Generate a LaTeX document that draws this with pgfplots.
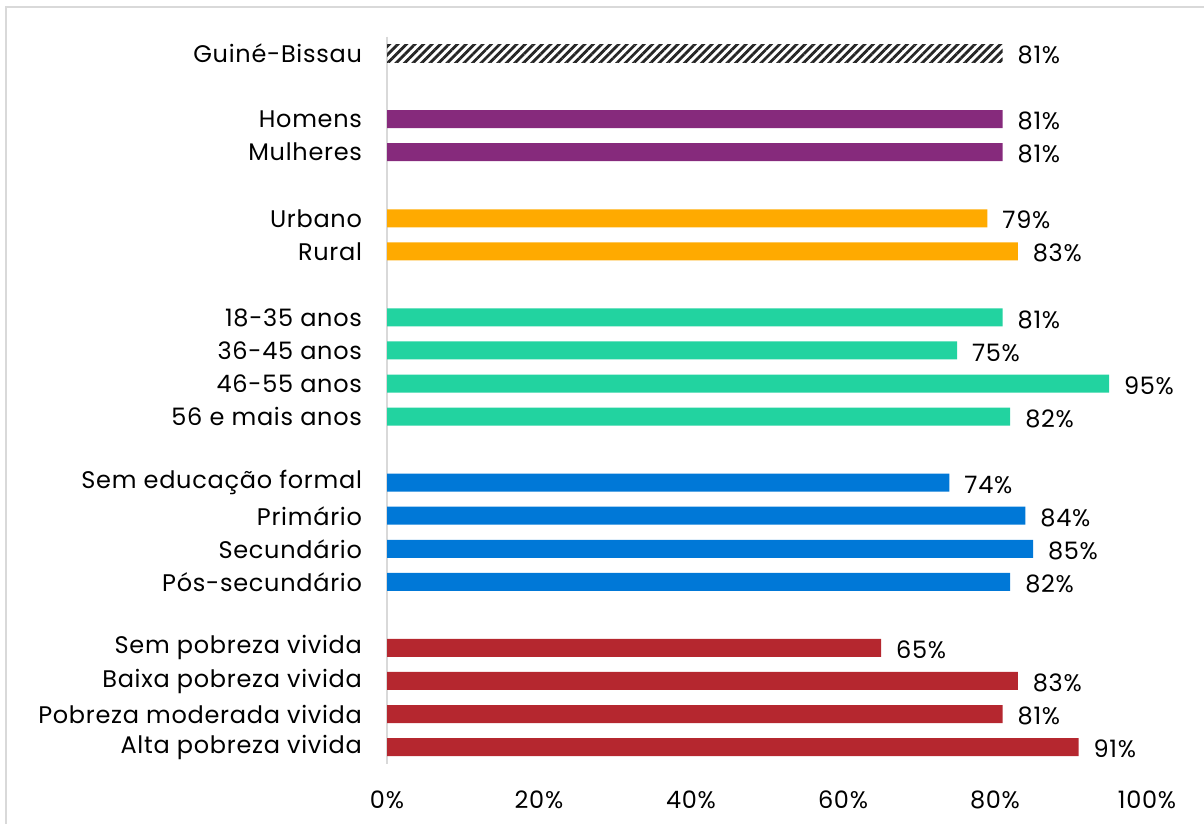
\documentclass[border=0pt]{standalone}
\usepackage{fontspec}
\setmainfont{Poppins}[LetterSpace=3]
\usepackage{pgfplots}
\pgfplotsset{compat=1.18}
\usetikzlibrary{patterns.meta}

\definecolor{cpurple}{RGB}{134,42,124}
\definecolor{corange}{RGB}{255,170,0}
\definecolor{cteal}{RGB}{34,211,160}
\definecolor{cblue}{RGB}{0,120,215}
\definecolor{cred}{RGB}{181,39,47}
\definecolor{cframe}{RGB}{217,217,217}

\begin{document}
\begin{tikzpicture}
% 1 px = 0.5pt, origin at top-left of the image
\path[use as bounding box] (0,0) rectangle (602pt,-412pt);
\draw[cframe, line width=1pt] (3pt,-420pt) -- (3pt,-3.5pt) -- (610pt,-3.5pt);

\begin{axis}[
    at={(193.5pt,-18.25pt)}, anchor=north west,
    scale only axis,
    x=3.8pt, y=16.525pt,
    xmin=0, xmax=100, ymin=-0.5, ymax=21.5,
    y dir=reverse,
    axis x line*=bottom, axis y line*=left,
    x axis line style={draw=none},
    y axis line style={draw=cframe, line width=1pt},
    xtick={0,20,40,60,80,100},
    xticklabel={\pgfmathprintnumber{\tick}\%},
    xticklabel style={yshift=-10pt},
    ytick={0,2,3,5,6,8,9,10,11,13,14,15,16,18,19,20,21},
    yticklabels={Guiné-Bissau,Homens,Mulheres,Urbano,Rural,18-35 anos,36-45 anos,46-55 anos,56 e mais anos,Sem educação formal,Primário,Secundário,Pós-secundário,Sem pobreza vivida,Baixa pobreza vivida,Pobreza moderada vivida,Alta pobreza vivida},
    major tick length=0pt,
    tick label style={font=\fontsize{12pt}{14pt}\selectfont, text=black},
    yticklabel style={xshift=-9pt},
    /pgf/number format/assume math mode=true,
    xbar, bar width=9pt, bar shift=0pt,
    nodes near coords={\pgfmathprintnumber{\pgfplotspointmeta}\%},
    nodes near coords style={font=\fontsize{12pt}{14pt}\selectfont, anchor=west, xshift=4pt, yshift=-1pt, text=black},
    clip=false,
]
\addplot[draw=none, pattern={Lines[angle=45, distance=3pt, line width=1.4pt]}, pattern color=black!85] coordinates {(81,0)};
\addplot[draw=none, fill=cpurple] coordinates {(81,2) (81,3)};
\addplot[draw=none, fill=corange] coordinates {(79,5) (83,6)};
\addplot[draw=none, fill=cteal] coordinates {(81,8) (75,9) (95,10) (82,11)};
\addplot[draw=none, fill=cblue] coordinates {(74,13) (84,14) (85,15) (82,16)};
\addplot[draw=none, fill=cred] coordinates {(65,18) (83,19) (81,20) (91,21)};
\end{axis}
\end{tikzpicture}
\end{document}
